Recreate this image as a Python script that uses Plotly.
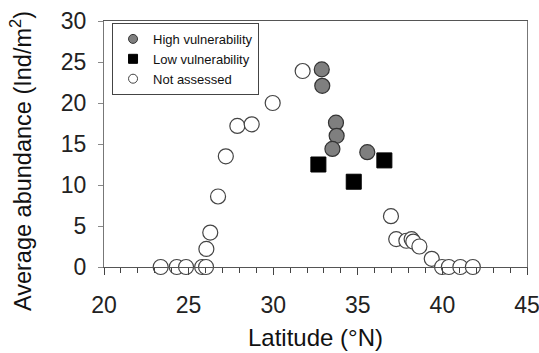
import plotly.graph_objects as go

# Data (latitude °N, average abundance Ind/m2)
high_lat = [32.87, 32.90, 33.71, 33.75, 33.50, 35.56]
high_abund = [24.1, 22.1, 17.6, 16.0, 14.4, 14.0]

low_lat = [32.67, 34.76, 36.57]
low_abund = [12.5, 10.4, 13.0]

na_lat = [23.35, 24.30, 24.85, 25.80, 26.03, 26.05, 26.28, 26.74, 27.20, 27.88,
          28.73, 29.97, 31.74, 36.96, 37.27, 37.87, 38.18, 38.28, 38.64, 39.37,
          39.98, 40.38, 41.06, 41.80]
na_abund = [0, 0, 0, 0, 0, 2.2, 4.2, 8.6, 13.5, 17.2,
            17.4, 20.0, 23.9, 6.2, 3.4, 3.2, 3.4, 3.1, 2.5, 1.0,
            0, 0, 0, 0]

x_title = "Latitude (°N)"
y_title = "Average abundance (Ind/m<sup>2</sup>)"

FONT = "Liberation Sans, Arial, sans-serif"
MS = 15

fig = go.Figure()

# data traces (no legend)
fig.add_trace(go.Scatter(x=na_lat, y=na_abund, mode="markers", showlegend=False,
                         cliponaxis=False,
                         marker=dict(symbol="circle", size=MS, color="white",
                                     line=dict(color="#444444", width=1.2))))
fig.add_trace(go.Scatter(x=high_lat, y=high_abund, mode="markers", showlegend=False,
                         cliponaxis=False,
                         marker=dict(symbol="circle", size=MS, color="#7f7f7f",
                                     line=dict(color="#333333", width=1.2))))
fig.add_trace(go.Scatter(x=low_lat, y=low_abund, mode="markers", showlegend=False,
                         cliponaxis=False,
                         marker=dict(symbol="square", size=MS, color="black",
                                     line=dict(color="black", width=1))))

# legend entries
fig.add_trace(go.Scatter(x=[None], y=[None], mode="markers", name="High vulnerability",
                         marker=dict(symbol="circle", size=9, color="#7f7f7f",
                                     line=dict(color="#333333", width=1))))
fig.add_trace(go.Scatter(x=[None], y=[None], mode="markers", name="Low vulnerability",
                         marker=dict(symbol="square", size=9, color="black",
                                     line=dict(color="black", width=1))))
fig.add_trace(go.Scatter(x=[None], y=[None], mode="markers", name="Not assessed",
                         marker=dict(symbol="circle", size=9, color="white",
                                     line=dict(color="#444444", width=1))))

fig.update_layout(
    width=539, height=353,
    margin=dict(l=104, r=12, t=21, b=86, autoexpand=False),
    paper_bgcolor="white", plot_bgcolor="white",
    font=dict(family=FONT, color="#222222", size=23),
    legend=dict(x=0.019, y=0.992, xanchor="left", yanchor="top",
                bordercolor="#444444", borderwidth=1, bgcolor="white",
                font=dict(size=13, color="#111111"),
                itemwidth=30, tracegroupgap=0),
    xaxis=dict(range=[20, 45], tickmode="linear", tick0=20, dtick=5,
               ticks="outside", ticklen=7, ticklabelstandoff=10,
               ticklabeloverflow="allow",
               tickcolor="#444444", showline=True, linecolor="#555555", linewidth=1.2,
               mirror=True, showgrid=False, zeroline=False, automargin=False,
               title=dict(text=x_title, font=dict(size=24, color="#111111"),
                          standoff=12),
               minor=dict(dtick=1, tick0=20, ticks="outside", ticklen=5,
                          tickcolor="#444444", showgrid=False)),
    yaxis=dict(range=[0, 30], tickmode="linear", tick0=0, dtick=5,
               ticks="outside", ticklen=5, ticklabelstandoff=7,
               ticklabeloverflow="allow",
               tickcolor="#888888", showline=True, linecolor="#777777", linewidth=1.2,
               mirror=True, showgrid=False, zeroline=False, automargin=False),
    annotations=[
        dict(text=y_title, xref="paper", yref="paper", x=-0.196, y=0.431,
             xanchor="center", yanchor="middle", textangle=-90, showarrow=False,
             font=dict(family=FONT, size=23.5, color="#111111")),
    ],
)

# remove the page's default body margin so the figure fills the window exactly
fig.write_html("out.html",
               config={"displayModeBar": False},
               post_script="document.body.style.margin='0';"
                           "document.body.style.overflow='hidden';")
